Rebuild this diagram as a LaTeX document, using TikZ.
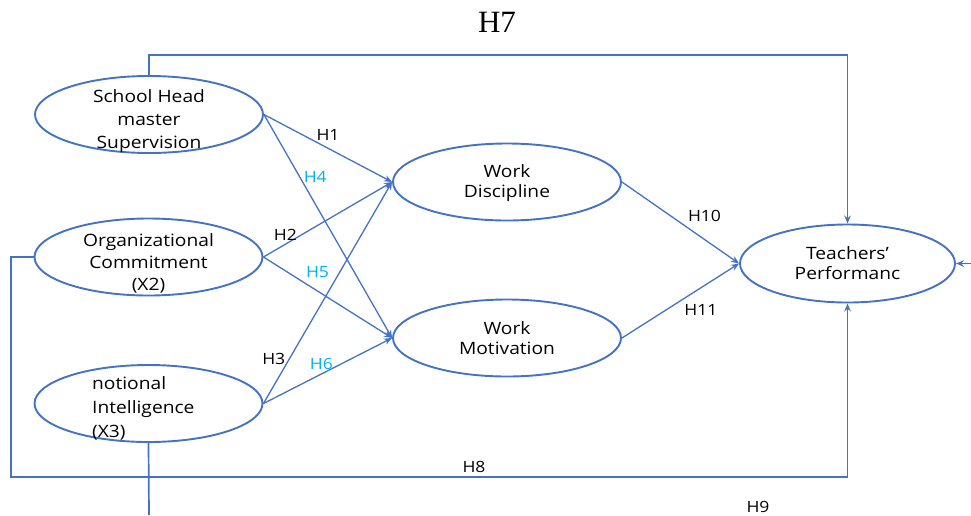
\documentclass[tikz,border=0pt]{standalone}
\usepackage{fontspec}
\setsansfont{Open Sans}[FakeStretch=1.13]
\newfontfamily\titlefont{Liberation Serif}
\usetikzlibrary{arrows.meta,shapes.geometric,positioning}
\definecolor{lineblue}{RGB}{68,114,196}
\definecolor{hypcyan}{RGB}{0,176,240}

\begin{document}
\begin{tikzpicture}[x=1pt,y=-1pt,>={Stealth[length=8pt,width=6.5pt]}]
\tikzstyle{latent}=[ellipse,draw=lineblue,line width=1.9pt,minimum width=228pt,minimum height=77pt,inner sep=0pt]
\tikzstyle{vartext}=[align=center,inner sep=0pt,font=\sffamily\fontsize{17}{23}\selectfont]
\tikzstyle{link}=[draw=lineblue,line width=1.3pt,->]
\tikzstyle{route}=[link,line width=1.7pt]
\tikzstyle{hyp}=[font=\sffamily\fontsize{15.5}{18}\selectfont]
\tikzstyle{hypb}=[hyp,text=hypcyan]

\useasboundingbox (0,0) rectangle (971,515);

% constructs
\node[latent] (sh) at (149,114.5) {};
\node[latent] (oc) at (148.5,257) {};
\node[latent] (ei) at (148.5,403.5) {};
\node[latent] (wd) at (507,182) {};
\node[latent] (wm) at (507,338) {};
\node[latent, minimum width=215pt, minimum height=78pt] (tp) at (847.5,263.5) {};

\node[vartext, yshift=-6.5pt] (sh_txt) at (sh) {School Head\\master\\Supervision};
\node[vartext, yshift=-6pt, font=\sffamily\fontsize{17}{22}\selectfont] (oc_txt) at (oc) {Organizational\\Commitment\\(X2)};
\node[vartext, align=left, anchor=west, font=\sffamily\fontsize{17}{24}\selectfont] (ei_txt) at (92,408.5) {notional\\Intelligence\\(X3)};
\node[vartext, yshift=-1pt, font=\sffamily\fontsize{17}{19.5}\selectfont] (wd_txt) at (wd) {Work\\Discipline};
\node[vartext, font=\sffamily\fontsize{17}{19.5}\selectfont] (wm_txt) at (wm) {Work\\Motivation};
\node[vartext, font=\sffamily\fontsize{17}{20}\selectfont] (tp_txt) at (tp) {Teachers’\\Performanc};

% direct paths
\path
  (sh.east) edge [link] node[hyp, pos=0.5, above=4pt] {H1} (wd.west)
  (sh.east) edge [link] node[hypb, pos=0.28, right] {H4} (wm.west)
  (oc.east) edge [link] node[hyp, pos=0.17, above] {H2} (wd.west)
  (oc.east) edge [link] node[hypb, pos=0.3, above right] {H5} (wm.west)
  (ei.east) edge [link] node[hyp, pos=0.2, left] {H3} (wd.west)
  (ei.east) edge [link] node[hypb, pos=0.45, above] {H6} (wm.west)
  (wd.east) edge [link] node[hyp, pos=0.53, above right] {H10} (tp.west)
  (wm.east) edge [link] node[hyp, pos=0.5, below right] {H11} (tp.west);

% long paths
\draw[route] (sh.north) -- ++(0,-20) -| (tp.north);
\draw[route] (oc.west) -| (11,477) -| (tp.south);
\coordinate (ei_out) at (149,515);
\draw[route,-] (ei.south) -- (ei_out);
\coordinate (tp_in) at (971,263.5);
\draw[route] (tp_in) -- (tp.east);

\node[font=\titlefont\fontsize{31}{34}\selectfont] (h7) at (497,22.5) {H7};
\node[hyp] (h8) at (474,467) {H8};
\node[hyp] (h9) at (758,506.5) {H9};
\end{tikzpicture}
\end{document}
